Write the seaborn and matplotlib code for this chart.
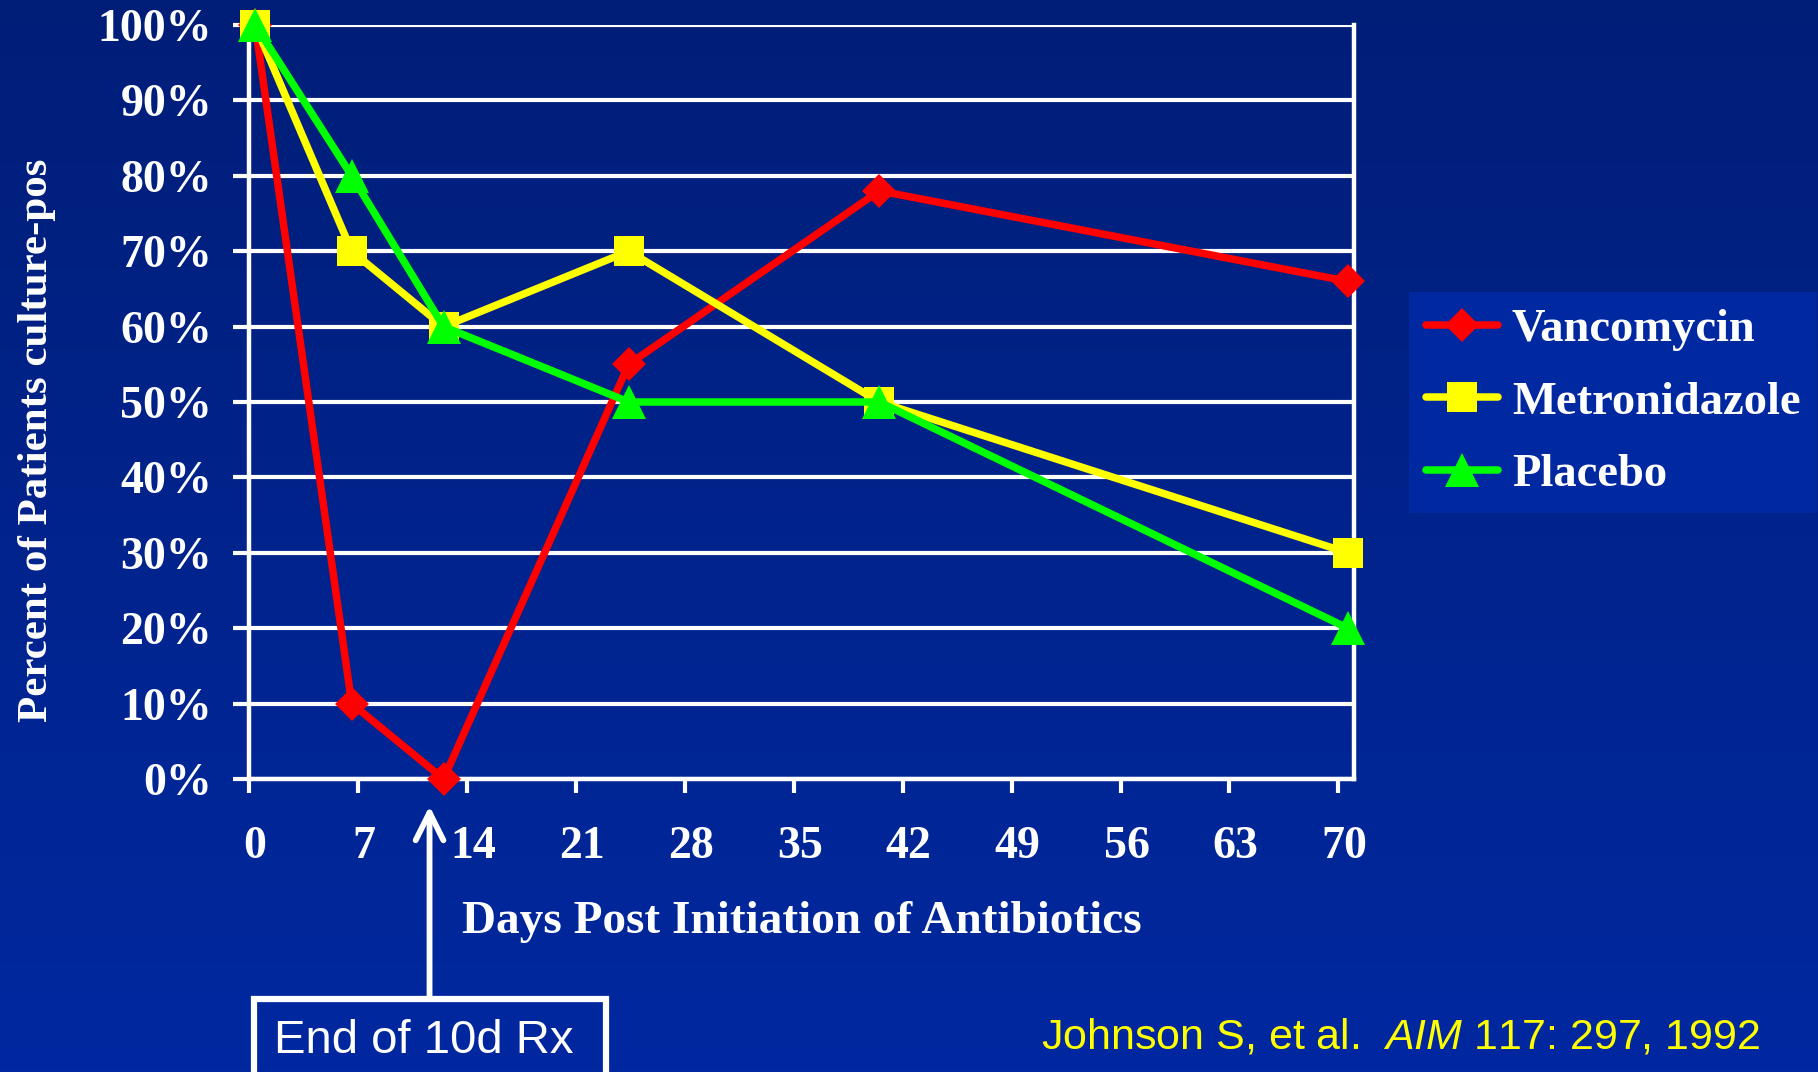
import numpy as np
import pandas as pd
import matplotlib
matplotlib.use("Agg")
import matplotlib.pyplot as plt
import matplotlib.transforms as mtransforms
import seaborn as sns
from matplotlib.patches import Rectangle

# Days after start of therapy at which cultures were taken
days = [0.4, 6.6, 12.5, 24.4, 40.5, 70.6]

# Percent of patients with positive culture
vancomycin = [100, 10, 0, 55, 78, 66]
metronidazole = [100, 70, 60, 70, 50, 30]
placebo = [100, 80, 60, 50, 50, 20]

series_names = ["Vancomycin", "Metronidazole", "Placebo"]
series_colors = ["#FF0000", "#FFFF00", "#00FF00"]
series_markers = ["D", "s", "^"]
series_msizes = [17.5, 22, 25]

x_ticks = list(range(0, 71, 7))
y_ticks = list(range(0, 101, 10))
y_tick_labels = [f"{v}%" for v in y_ticks]

x_title = "Days Post Initiation of Antibiotics"
y_title = "Percent of Patients culture-pos"
note_text = "End of 10d Rx"
note_day = 11.6
citation = r"Johnson S, et al.  $\mathit{AIM}$ 117: 297, 1992"

df = pd.DataFrame({
    "day": days * len(series_names),
    "pct": vancomycin + metronidazole + placebo,
    "drug": np.repeat(series_names, len(days)),
})

sns.set_style("ticks")
plt.rcParams["font.family"] = ["Liberation Serif", "DejaVu Serif"]
plt.rcParams["font.weight"] = "normal"
plt.rcParams["mathtext.fontset"] = "custom"
plt.rcParams["mathtext.rm"] = "Liberation Sans"
plt.rcParams["mathtext.it"] = "Liberation Sans:italic"

W, H = 1818, 1072
fig = plt.figure(figsize=(W / 100, H / 100), dpi=100)

# vertical navy gradient behind everything
bg = fig.add_axes([0, 0, 1, 1], zorder=-10)
top_c = np.array([0x00, 0x1E, 0x78]) / 255
bot_c = np.array([0x00, 0x28, 0xA0]) / 255
t = np.linspace(0, 1, 256)[:, None]
grad = (top_c[None, :] * (1 - t) + bot_c[None, :] * t)[:, None, :]
bg.imshow(grad, aspect="auto", extent=[0, 1, 0, 1], origin="upper")
bg.set_axis_off()

ax_l, ax_r, ax_t, ax_b = 249, 1354, 25, 779
ax = fig.add_axes([ax_l / W, 1 - ax_b / H, (ax_r - ax_l) / W, (ax_b - ax_t) / H])
ax.set_facecolor("none")

for name, color, mk, ms in zip(series_names, series_colors, series_markers, series_msizes):
    sub = df[df["drug"] == name]
    sns.lineplot(data=sub, x="day", y="pct", ax=ax, color=color, lw=5.4,
                 marker=mk, markersize=ms, markeredgewidth=0, label=name,
                 clip_on=False, zorder=3)

ax.set_xlim(0, 71)
ax.set_ylim(0, 100)
ax.set_xticks(x_ticks)
ax.set_yticks(y_ticks)
ax.set_yticklabels(y_tick_labels)
ax.yaxis.grid(True, color="white", lw=3.0)
ax.set_axisbelow(True)

for side in ["left", "bottom", "right"]:
    ax.spines[side].set_color("white")
    ax.spines[side].set_linewidth(3.2)
ax.spines["top"].set_visible(False)

ax.tick_params(axis="y", colors="white", length=11.5, width=3.0, pad=15, labelsize=33)
ax.tick_params(axis="x", colors="white", length=10, width=3.0, pad=24, labelsize=33)
for lab in ax.get_xticklabels() + ax.get_yticklabels():
    lab.set_fontweight("bold")
shift = mtransforms.ScaledTranslation(6 / 100, 0, fig.dpi_scale_trans)
for lab in ax.get_xticklabels():
    lab.set_transform(lab.get_transform() + shift)

ax.set_xlabel(x_title, color="white", fontsize=34, fontweight="bold")
ax.xaxis.set_label_coords(0.5, -0.162)
ax.set_ylabel(y_title, color="white", fontsize=31, fontweight="bold")
ax.yaxis.set_label_coords(-0.175, 0.449)

leg = ax.legend(loc="upper left", bbox_to_anchor=(1409 / W, 1 - 292 / H),
                bbox_transform=fig.transFigure, frameon=True, fancybox=False,
                prop={"family": "Liberation Serif", "weight": "bold", "size": 33.5},
                handlelength=1.55, handletextpad=0.3, labelspacing=0.64,
                borderpad=0.36, borderaxespad=0)
leg.get_frame().set_facecolor("#0028A0")
leg.get_frame().set_edgecolor("none")
leg.get_frame().set_alpha(1)
for txt in leg.get_texts():
    txt.set_color("white")

# arrow marking end of treatment
y_arrow_tail = (ax_b - 996) / (ax_b - ax_t) * 100
y_arrow_head = (ax_b - 806) / (ax_b - ax_t) * 100
ax.annotate("", xy=(note_day, y_arrow_head), xytext=(note_day, y_arrow_tail),
            xycoords="data", textcoords="data", annotation_clip=False,
            arrowprops=dict(arrowstyle="->, head_length=2.0, head_width=1.0",
                            mutation_scale=10, color="white", lw=4.2,
                            shrinkA=0, shrinkB=0))

# outlined box with the treatment note (runs off the bottom edge)
box = Rectangle((254 / W, -0.05), (606 - 254) / W, 0.05 + (1 - 999 / H),
                transform=fig.transFigure, fill=False, ec="white", lw=4.5,
                clip_on=False)
fig.add_artist(box)
fig.text(274 / W, 1 - 1053 / H, note_text, color="white", fontsize=34,
         family="Liberation Sans", fontweight="normal", va="baseline", ha="left")

fig.text(1041 / W, 1 - 1049 / H, citation, color="#FFFF00", fontsize=31,
         family="Liberation Sans", fontweight="normal", va="baseline", ha="left")

fig.savefig("out.png", dpi=100)
